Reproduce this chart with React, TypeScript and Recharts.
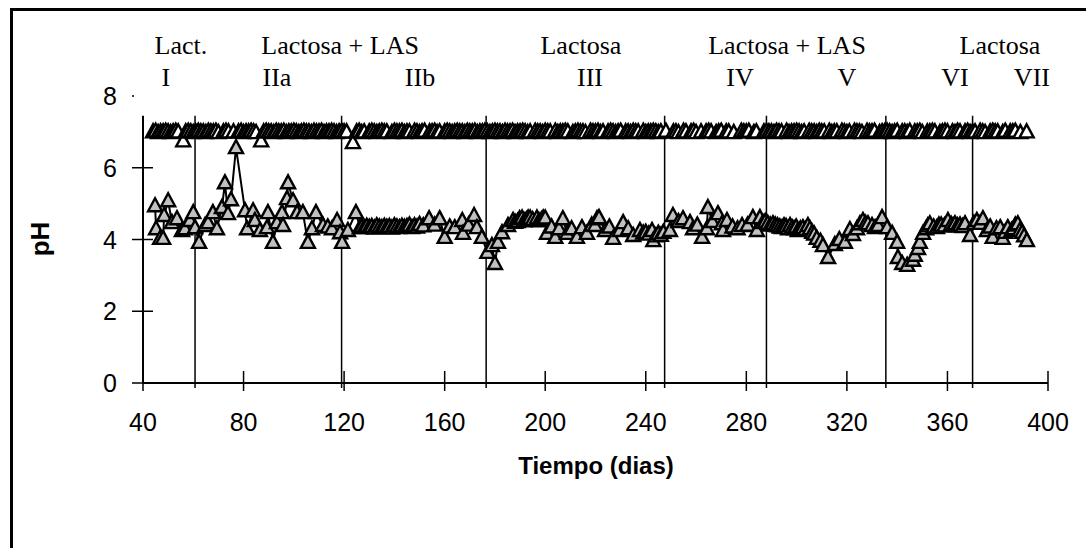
import { ComposedChart, Scatter, XAxis, YAxis, ReferenceLine } from "recharts"

// pH en el efluente (triángulo blanco) — [día, pH]
const phEfluente: [number, number][] = [
  [44, 7.0], [45, 7.02], [46, 6.98], [47, 7.0], [48, 7.0], [49, 7.02], [50, 7.0], [51, 6.98], [52, 7.0], [53, 7.02],
  [54, 7.0], [56, 6.75], [57, 7.0], [58, 7.02], [59, 7.0], [60, 6.98], [61, 7.0], [62, 7.02], [63, 7.0], [64, 7.0],
  [65, 6.98], [66, 7.02], [67, 7.0], [68, 7.0], [69, 7.02], [70, 6.98], [72, 7.0], [73, 7.02], [74, 7.0], [76, 7.0],
  [78, 7.0], [79, 7.02], [80, 6.98], [81, 7.0], [82, 7.0], [83, 7.02], [84, 7.0], [85, 6.98], [87, 6.75], [88, 7.0],
  [89, 7.02], [90, 7.0], [91, 7.0], [92, 6.98], [93, 7.02], [94, 7.0], [95, 7.0], [96, 7.02], [97, 6.98], [98, 7.0],
  [99, 7.0], [100, 7.02], [101, 7.0], [102, 6.98], [103, 7.0], [104, 7.02], [105, 7.0], [106, 7.0], [107, 6.98], [108, 7.02],
  [109, 7.0], [110, 7.0], [111, 7.02], [112, 6.98], [113, 7.0], [114, 7.0], [115, 7.02], [116, 7.0], [117, 6.98], [118, 7.0],
  [119, 7.02], [120, 7.0], [121, 7.0], [123.5, 6.7], [125, 7.0], [126, 7.02], [127, 6.98], [128, 7.0], [130, 7.0], [131, 7.02],
  [132, 7.0], [133, 6.98], [134, 7.0], [135, 7.02], [136, 7.0], [137, 7.0], [139, 6.98], [140, 7.02], [141, 7.0], [142, 7.0],
  [143, 7.02], [144, 6.98], [145, 7.0], [146, 7.0], [148, 7.02], [149, 7.0], [150, 6.98], [151, 7.0], [152, 7.02], [154, 7.0],
  [155, 7.0], [156, 7.02], [157, 6.98], [158, 7.0], [160, 7.0], [161, 7.02], [162, 7.0], [163, 6.98], [164, 7.0], [165, 7.02],
  [166, 7.0], [167, 7.0], [168, 6.98], [169, 7.02], [170, 7.0], [171, 7.0], [172, 7.02], [173, 6.98], [174, 7.0], [175, 7.0],
  [176, 7.02], [177, 7.0], [178, 6.98], [179, 7.0], [180, 7.02], [181, 7.0], [182, 7.0], [183, 6.98], [184, 7.02], [185, 7.0],
  [186, 7.0], [187, 7.02], [188, 6.98], [189, 7.0], [190, 7.0], [191, 7.02], [192, 7.0], [193, 6.98], [194, 7.0], [196, 7.02],
  [197, 7.0], [198, 7.0], [199, 6.98], [200, 7.02], [201, 7.0], [202, 7.0], [204, 7.02], [205, 6.98], [206, 7.0], [207, 7.0],
  [208, 7.02], [209, 7.0], [211, 6.98], [212, 7.0], [213, 7.02], [214, 7.0], [215, 7.0], [216, 6.98], [218, 7.02], [219, 7.0],
  [220, 7.0], [221, 7.02], [222, 6.98], [223, 7.0], [225, 7.0], [226, 7.02], [227, 7.0], [228, 6.98], [229, 7.0], [230, 7.02],
  [232, 7.0], [233, 7.0], [234, 6.98], [235, 7.02], [236, 7.0], [237, 7.0], [239, 7.02], [240, 6.98], [241, 7.0], [242, 7.0],
  [243, 7.02], [244, 7.0], [245, 6.98], [246, 7.0], [248, 7.02], [251, 7.0], [252, 7.0], [253, 6.98], [255, 7.02], [256, 7.0],
  [258, 7.0], [259, 7.02], [260, 6.98], [262, 7.0], [264, 7.0], [265, 7.02], [266, 7.0], [268, 6.98], [269, 7.0], [270, 7.02],
  [272, 7.0], [273, 7.0], [275, 6.98], [278, 7.02], [279, 7.0], [280, 7.0], [281, 7.02], [283, 6.98], [284, 7.0], [287, 7.0],
  [288, 7.02], [289, 7.0], [290, 7.0], [291, 6.98], [292, 7.02], [293, 7.0], [294, 7.0], [296, 7.02], [297, 6.98], [298, 7.0],
  [299, 7.0], [300, 7.02], [301, 7.0], [302, 6.98], [303, 7.0], [305, 7.02], [306, 7.0], [307, 7.0], [308, 6.98], [309, 7.02],
  [310, 7.0], [311, 7.0], [313, 7.02], [314, 6.98], [315, 7.0], [316, 7.0], [318, 7.02], [319, 7.0], [320, 6.98], [321, 7.0],
  [323, 7.02], [324, 7.0], [325, 7.0], [326, 6.98], [328, 7.02], [329, 7.0], [330, 7.0], [331, 7.02], [333, 6.98], [334, 7.0],
  [335, 7.0], [336, 7.02], [337, 7.0], [338, 6.98], [339, 7.0], [340, 7.02], [342, 7.0], [343, 7.0], [344, 6.98], [345, 7.02],
  [347, 7.0], [348, 7.0], [349, 7.02], [350, 6.98], [352, 7.0], [353, 7.0], [354, 7.02], [355, 7.0], [357, 6.98], [358, 7.0],
  [359, 7.02], [360, 7.0], [362, 7.0], [363, 6.98], [364, 7.02], [365, 7.0], [367, 7.0], [368, 7.02], [369, 6.98], [370, 7.0],
  [371, 7.0], [373, 7.02], [374, 7.0], [375, 6.98], [377, 7.0], [378, 7.02], [379, 7.0], [380, 7.0], [382, 6.98], [383, 7.02],
  [385, 7.0], [386, 7.0], [387, 7.02], [389, 6.98], [391.5, 7.0],
]

// pH en el reactor (triángulo gris) — [día, pH]
const phReactor: [number, number][] = [
  [44.8, 4.94], [45.2, 4.3], [46.8, 4.03], [48, 4.03], [48.4, 4.67], [50, 5.08], [51.5, 4.47], [53.5, 4.58],
  [55.5, 4.25], [56.7, 4.3], [58.7, 4.53], [60, 4.75], [60.7, 4.33], [62.3, 3.92], [64.7, 4.39], [65.9, 4.47],
  [67.8, 4.75], [69.4, 4.3], [71.4, 4.89], [72.6, 5.58], [73.8, 4.72], [75, 5.11], [77, 6.56], [80.6, 4.8],
  [81.4, 4.3], [83.8, 4.8], [84.5, 4.53], [86.5, 4.25], [89.3, 4.33], [89.7, 4.75], [91.7, 3.92], [93.3, 4.47],
  [95.3, 4.75], [95.7, 4.39], [97.3, 5.14], [97.7, 5.58], [99.7, 5.08], [101.3, 4.75], [103.6, 4.75], [105.6, 3.92],
  [107.2, 4.3], [108.8, 4.75], [111.6, 4.39], [113.5, 4.35], [115.2, 4.3], [117.2, 4.53], [118.4, 4.19], [119.2, 3.92],
  [121.5, 4.25], [124.7, 4.75], [126.3, 4.33], [127, 4.35], [128, 4.33], [129, 4.37], [130, 4.34], [131, 4.36],
  [132, 4.32], [133, 4.38], [134, 4.35], [135, 4.33], [136, 4.37], [137, 4.34], [138, 4.36], [139, 4.32],
  [140, 4.38], [141, 4.35], [142, 4.33], [143, 4.37], [144, 4.34], [145, 4.36], [146, 4.4], [147, 4.33],
  [148, 4.38], [149, 4.35], [150, 4.42], [151.5, 4.38], [153.8, 4.58], [156, 4.4], [158, 4.58], [160, 4.06],
  [162, 4.35], [164, 4.33], [167, 4.53], [167.3, 4.17], [169.5, 4.4], [171.7, 4.67], [172.8, 4.33], [174.8, 4.06],
  [177, 3.64], [178.8, 3.83], [180, 3.33], [181.2, 3.92], [182.8, 4.19], [185.2, 4.39], [187.2, 4.53], [188, 4.48],
  [189, 4.5], [189.8, 4.58], [190.8, 4.6], [191.6, 4.52], [192.5, 4.55], [193.2, 4.6], [194, 4.6], [195, 4.55],
  [196.7, 4.6], [197.5, 4.52], [198.5, 4.55], [199.2, 4.6], [200, 4.6], [200.7, 4.17], [202.5, 4.35], [204, 4.06],
  [205.5, 4.3], [207, 4.58], [208.7, 4.17], [210.5, 4.3], [212.6, 4.06], [214.6, 4.33], [216.6, 4.17], [218.5, 4.4],
  [219.8, 4.39], [220.6, 4.58], [221.4, 4.61], [223.8, 4.25], [225.5, 4.35], [227, 4.03], [229.7, 4.25], [231, 4.47],
  [233, 4.3], [235, 4.11], [237.7, 4.25], [239, 4.18], [240, 4.2], [241.2, 4.15], [242.5, 4.25], [243, 3.97],
  [244, 4.1], [245, 4.17], [246, 4.12], [247, 4.2], [249.6, 4.25], [250.8, 4.67], [253, 4.5], [254.8, 4.58],
  [257.6, 4.47], [258.8, 4.3], [260.5, 4.4], [262.4, 4.06], [264.3, 4.3], [264.7, 4.89], [266.5, 4.5], [268.7, 4.72],
  [270.3, 4.44], [270.7, 4.25], [272.3, 4.53], [274.5, 4.35], [276.5, 4.3], [278.3, 4.39], [280.5, 4.4], [282.6, 4.61],
  [284.2, 4.25], [285.4, 4.61], [286.6, 4.47], [287.5, 4.5], [288.5, 4.45], [289.5, 4.4], [290.6, 4.44], [291.5, 4.4],
  [292.4, 4.38], [293.3, 4.35], [294.2, 4.33], [295, 4.38], [295.8, 4.36], [296.6, 4.3], [297.4, 4.39], [298.2, 4.33],
  [299, 4.3], [299.8, 4.35], [300.5, 4.25], [301.5, 4.3], [302.5, 4.33], [303.5, 4.28], [304.5, 4.39], [305.3, 4.3],
  [306.2, 4.2], [307, 4.15], [308, 4.03], [309.5, 3.95], [310.5, 3.83], [312.5, 3.5], [315.2, 3.86], [317, 4.0],
  [319.2, 3.92], [321.2, 4.28], [322.4, 4.14], [324, 4.3], [325.2, 4.44], [326.4, 4.53], [327.4, 4.45], [328.4, 4.44],
  [330, 4.39], [331.2, 4.33], [332.4, 4.39], [334, 4.61], [336, 4.33], [338, 4.17], [340, 3.92], [340.3, 3.5],
  [342, 3.33], [344, 3.28], [346.3, 3.42], [347, 3.56], [348.3, 3.75], [349, 3.92], [350.3, 4.17], [351.5, 4.3],
  [352.2, 4.38], [353, 4.44], [354.5, 4.35], [355.8, 4.33], [356.6, 4.4], [357.5, 4.4], [358.8, 4.38], [360.2, 4.53],
  [361.5, 4.42], [362.3, 4.38], [363, 4.44], [364, 4.38], [365, 4.4], [366, 4.36], [367, 4.44], [369, 4.11],
  [370.5, 4.45], [371.7, 4.53], [373, 4.45], [374.1, 4.58], [375.7, 4.25], [377, 4.35], [378, 4.06], [379.5, 4.3],
  [381, 4.33], [382, 4.03], [383, 4.2], [384, 4.33], [385.5, 4.25], [386.3, 4.3], [387, 4.4], [388, 4.44],
  [388.8, 4.25], [389.7, 4.2], [390.5, 4.1], [391.6, 3.97],
]

const xTicks = [40, 80, 120, 160, 200, 240, 280, 320, 360, 400]
const yTicks = [0, 2, 4, 6, 8]

// cambios de etapa (días)
const phaseBounds = [60.7, 119, 176.5, 247.5, 288, 335.5, 370]

// sustrato y etapa, ubicados por día
const substrates: [number, string][] = [
  [55.1, "Lact."], [118.4, "Lactosa + LAS"], [214.2, "Lactosa"], [296.2, "Lactosa + LAS"], [380.9, "Lactosa"],
]
const stages: [number, string][] = [
  [49.1, "I"], [93.3, "IIa"], [150.2, "IIb"], [217.8, "III"], [277.5, "IV"], [320, "V"], [363, "VI"], [393.6, "VII"],
]

const efluente = phEfluente.map(([day, ph]) => ({ day, ph }))
const reactor = phReactor.map(([day, ph]) => ({ day, ph }))

const sans = "'Liberation Sans', Arial, sans-serif"
const serif = "'Liberation Serif', 'Times New Roman', serif"

const triangle = (fill: string) => (props: any) => {
  const { cx, cy } = props
  if (cx == null || cy == null) return <g />
  return (
    <path
      d={`M${cx},${cy - 7.5} L${cx + 7},${cy + 5.5} L${cx - 7},${cy + 5.5} Z`}
      fill={fill}
      stroke="#000"
      strokeWidth={2.4}
    />
  )
}

function XTick({ x, y, payload }: any) {
  return (
    <g>
      <line x1={x} y1={y - 12} x2={x} y2={y + 8} stroke="#000" strokeWidth={1.5} />
      <text x={x} y={y + 48} textAnchor="middle" fontFamily={sans} fontSize={25} fill="#000">
        {payload.value}
      </text>
    </g>
  )
}

function YTick({ x, y, payload }: any) {
  const v = payload.value
  return (
    <g>
      {v === 8 ? (
        <circle cx={x - 10} cy={y} r={1} fill="#000" />
      ) : (
        <line x1={x - 11} y1={y} x2={x + 10} y2={y} stroke="#000" strokeWidth={1.5} />
      )}
      <text x={x - 26} y={y + 9} textAnchor="end" fontFamily={sans} fontSize={25} fill="#000">
        {v}
      </text>
    </g>
  )
}

function PhaseTick({ x, y, payload }: any) {
  const sub = substrates.find((s) => s[0] === payload.value)
  const stg = stages.find((s) => s[0] === payload.value)
  const text = sub ? sub[1] : stg ? stg[1] : ""
  return (
    <text x={x} y={sub ? y - 42 : y - 10} textAnchor="middle" fontFamily={serif} fontSize={26} fill="#000">
      {text}
    </text>
  )
}

export default function App() {
  return (
    <div style={{ position: "absolute", left: 0, top: 0, width: 1086, height: 548, background: "#fff" }}>
      <div
        style={{
          position: "absolute",
          left: 10,
          top: 8,
          width: 1076,
          height: 540,
          boxSizing: "border-box",
          borderTop: "3px solid #000",
          borderLeft: "3px solid #000",
        }}
      />
      <div style={{ position: "absolute", left: 0, top: 0 }}>
        <ComposedChart width={1086} height={548} margin={{ top: 46, right: 38, bottom: 105, left: 63 }}>
          <XAxis
            dataKey="day"
            type="number"
            domain={[40, 400]}
            ticks={xTicks}
            interval={0}
            height={60}
            tickSize={0}
            tickMargin={0}
            tickLine={false}
            axisLine={{ stroke: "#000", strokeWidth: 2 }}
            tick={<XTick />}
          />
          <XAxis
            xAxisId="top"
            dataKey="day"
            orientation="top"
            type="number"
            domain={[40, 400]}
            allowDataOverflow
            ticks={[...substrates.map((s) => s[0]), ...stages.map((s) => s[0])]}
            interval={0}
            height={50}
            tickSize={0}
            tickMargin={0}
            tickLine={false}
            axisLine={false}
            tick={<PhaseTick />}
          />
          <YAxis
            dataKey="ph"
            type="number"
            domain={[0, 8]}
            ticks={yTicks}
            interval={0}
            width={80}
            tickSize={0}
            tickMargin={0}
            tickLine={false}
            axisLine={false}
            tick={<YTick />}
          />
          <ReferenceLine
            segment={[{ x: 40, y: 7.45 }, { x: 40, y: 0 }]}
            stroke="#000"
            strokeWidth={2}
            ifOverflow="visible"
          />
          {phaseBounds.map((d) => (
            <ReferenceLine
              key={d}
              segment={[{ x: d, y: 7.45 }, { x: d, y: -0.14 }]}
              stroke="#000"
              strokeWidth={1.5}
              ifOverflow="visible"
            />
          ))}
          <Scatter
            xAxisId="top"
            data={efluente}
            line={{ stroke: "#000", strokeWidth: 2 }}
            shape={triangle("#fff")}
            isAnimationActive={false}
          />
          <Scatter
            data={reactor}
            line={{ stroke: "#000", strokeWidth: 2 }}
            shape={triangle("#c0c0c0")}
            isAnimationActive={false}
          />
        </ComposedChart>
      </div>
      <svg
        width={1086}
        height={548}
        style={{ position: "absolute", left: 0, top: 0, pointerEvents: "none" }}
      >
        <text
          transform="translate(49,239) rotate(-90)"
          textAnchor="middle"
          fontFamily={sans}
          fontSize={26}
          fontWeight="bold"
          fill="#000"
        >
          pH
        </text>
        <text x={596} y={474} textAnchor="middle" fontFamily={sans} fontSize={24} fontWeight="bold" fill="#000">
          Tiempo (dias)
        </text>
      </svg>
    </div>
  )
}
